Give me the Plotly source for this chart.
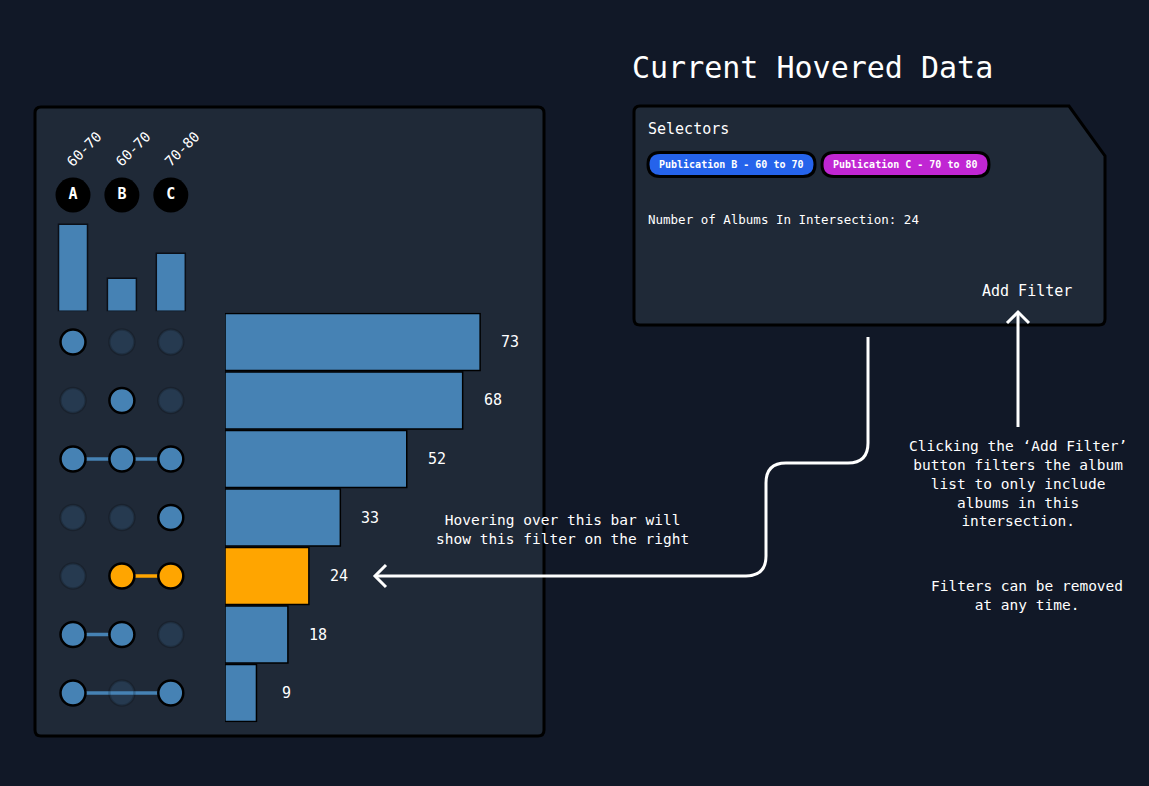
import plotly.graph_objects as go

W, H = 1149, 786
FONT = "DejaVu Sans Mono"

# ---------------- data ----------------
sets = ["A", "B", "C"]
set_ranges = ["60-70", "60-70", "70-80"]
set_sizes = [87, 33, 58]
intersections = [["A"], ["B"], ["A", "B", "C"], ["C"], ["B", "C"], ["A", "B"], ["A", "C"]]
counts = [73, 68, 52, 33, 24, 18, 9]
highlighted = 4
selectors = ["Publication B - 60 to 70", "Publication C - 70 to 80"]
selector_colors = ["#2563eb", "#c026d3"]
hovered_count = counts[highlighted]

# ---------------- colours ----------------
PAGE_BG = "#111827"
PANEL_BG = "#1f2937"
BLUE = "#4682b4"
ORANGE = "#ffa500"
DIM = "rgba(70,130,180,0.2)"


def px(x):
    return x / W


def py(y):
    return 1 - y / H


def path(cmds):
    out = []
    for c in cmds:
        if c[0] == "Z":
            out.append("Z")
        elif c[0] == "Q":
            out.append(f"Q {px(c[1]):.5f},{py(c[2]):.5f} {px(c[3]):.5f},{py(c[4]):.5f}")
        else:
            out.append(f"{c[0]} {px(c[1]):.5f},{py(c[2]):.5f}")
    return " ".join(out)


def rrect(x0, y0, x1, y1, r):
    return path([("M", x0 + r, y0), ("L", x1 - r, y0), ("Q", x1, y0, x1, y0 + r),
                 ("L", x1, y1 - r), ("Q", x1, y1, x1 - r, y1), ("L", x0 + r, y1),
                 ("Q", x0, y1, x0, y1 - r), ("L", x0, y0 + r), ("Q", x0, y0, x0 + r, y0), ("Z",)])


fig = go.Figure()

rows = list(range(len(counts)))
cols = list(range(len(sets)))

# horizontal intersection bars
bar_colors = [ORANGE if i == highlighted else BLUE for i in rows]
fig.add_trace(go.Bar(
    x=counts, y=rows, orientation="h", width=0.975,
    marker=dict(color=bar_colors, line=dict(color="#000000", width=1.5)),
    xaxis="x", yaxis="y", hoverinfo="skip", showlegend=False,
))

# connecting lines in matrix
for i, members in enumerate(intersections):
    idx = sorted(sets.index(m) for m in members)
    if len(idx) > 1:
        fig.add_trace(go.Scatter(
            x=[idx[0], idx[-1]], y=[i, i], mode="lines",
            line=dict(color=ORANGE if i == highlighted else BLUE, width=3.5),
            xaxis="x2", yaxis="y", hoverinfo="skip", showlegend=False,
        ))

# active dots
act_x, act_y, act_c = [], [], []
dim_x, dim_y = [], []
for i, members in enumerate(intersections):
    for j, s in enumerate(sets):
        if s in members:
            act_x.append(j)
            act_y.append(i)
            act_c.append(ORANGE if i == highlighted else BLUE)
        else:
            dim_x.append(j)
            dim_y.append(i)

fig.add_trace(go.Scatter(
    x=dim_x, y=dim_y, mode="markers",
    marker=dict(size=25, color=DIM, line=dict(color="rgba(0,0,0,0.18)", width=2.5)),
    xaxis="x2", yaxis="y", hoverinfo="skip", showlegend=False,
))
fig.add_trace(go.Scatter(
    x=act_x, y=act_y, mode="markers",
    marker=dict(size=25, color=act_c, line=dict(color="#000000", width=2.5)),
    xaxis="x2", yaxis="y", hoverinfo="skip", showlegend=False,
))

# set size bars
fig.add_trace(go.Bar(
    x=cols, y=set_sizes, width=0.593,
    marker=dict(color=BLUE, line=dict(color="#0b0f17", width=1.5)),
    xaxis="x2", yaxis="y2", hoverinfo="skip", showlegend=False,
))

# set letter circles
fig.add_trace(go.Scatter(
    x=cols, y=[0.5] * len(cols), mode="markers+text", text=sets,
    textposition="middle center",
    textfont=dict(family=FONT, size=15, color="#ffffff", weight="bold"),
    marker=dict(size=35, color="#000000"),
    xaxis="x2", yaxis="y3", hoverinfo="skip", showlegend=False,
))

annotations = []
# range labels
for j, lab in enumerate(set_ranges):
    annotations.append(dict(
        x=j, xref="x2", y=py(149), yref="paper", text=lab, showarrow=False,
        textangle=-45, xshift=11, font=dict(family=FONT, size=14, color="#ffffff"),
    ))
# count labels
for i, c in enumerate(counts):
    annotations.append(dict(
        x=c, xref="x", y=i, yref="y", text=str(c), showarrow=False,
        xshift=30, xanchor="center", font=dict(family=FONT, size=15, color="#ffffff"),
    ))

# right panel text
annotations += [
    dict(x=px(812), y=py(67), text="Current Hovered Data", font=dict(family=FONT, size=30, color="#ffffff")),
    dict(x=px(646), y=py(129), xanchor="left", text="Selectors", font=dict(family=FONT, size=15, color="#ffffff")),
    dict(x=px(646), y=py(220), xanchor="left", text=f"Number of Albums In Intersection: {hovered_count}",
         font=dict(family=FONT, size=12.5, color="#ffffff")),
    dict(x=px(1027), y=py(291), text="Add Filter", font=dict(family=FONT, size=15, color="#ffffff")),
    dict(x=px(562), y=py(529), text="Hovering over this bar will<br>show this filter on the right",
         font=dict(family=FONT, size=14.5, color="#ffffff")),
    dict(x=px(1018), y=py(484),
         text="Clicking the \u2018Add Filter\u2019<br>button filters the album<br>list to only include<br>albums in this<br>intersection.",
         font=dict(family=FONT, size=14.5, color="#ffffff")),
    dict(x=px(1027), y=py(595), text="Filters can be removed<br>at any time.",
         font=dict(family=FONT, size=14.5, color="#ffffff")),
]

pill_x = [(648, 815), (822, 989)]
shapes = [
    dict(type="path", xref="paper", yref="paper", layer="below",
         path=rrect(35, 107, 544, 736, 6), fillcolor=PANEL_BG, line=dict(color="#000000", width=3)),
    dict(type="path", xref="paper", yref="paper", layer="below",
         path=path([("M", 640, 106), ("L", 1069, 106), ("L", 1105, 156), ("L", 1105, 319),
                    ("Q", 1105, 325, 1099, 325), ("L", 640, 325), ("Q", 634, 325, 634, 319),
                    ("L", 634, 112), ("Q", 634, 106, 640, 106), ("Z",)]),
         fillcolor=PANEL_BG, line=dict(color="#000000", width=3)),
]
for (x0, x1), lab, colr in zip(pill_x, selectors, selector_colors):
    shapes.append(dict(type="path", xref="paper", yref="paper", layer="below",
                       path=rrect(x0, 152.5, x1, 176.5, 12), fillcolor=colr,
                       line=dict(color="#000000", width=3)))
    annotations.append(dict(x=px((x0 + x1) / 2), y=py(164.5), text=lab,
                            font=dict(family=FONT, size=10, color="#ffffff", weight="bold")))

# arrows
arrow_line = dict(color="#ffffff", width=3)
shapes += [
    dict(type="path", xref="paper", yref="paper",
         path=path([("M", 868, 337), ("L", 868, 443), ("Q", 868, 463, 848, 463), ("L", 786, 463),
                    ("Q", 766, 463, 766, 483), ("L", 766, 556), ("Q", 766, 576, 746, 576),
                    ("L", 375, 576)]), line=arrow_line),
    dict(type="path", xref="paper", yref="paper",
         path=path([("M", 386, 565), ("L", 375, 576), ("L", 386, 587)]), line=arrow_line),
    dict(type="path", xref="paper", yref="paper",
         path=path([("M", 1018, 427), ("L", 1018, 312)]), line=arrow_line),
    dict(type="path", xref="paper", yref="paper",
         path=path([("M", 1007, 323), ("L", 1018, 312), ("L", 1029, 323)]), line=arrow_line),
]

for a in annotations:
    a.setdefault("showarrow", False)
    a.setdefault("xref", "paper")
    a.setdefault("yref", "paper")
    a.setdefault("xanchor", "center")
    a.setdefault("yanchor", "middle")

hidden = dict(visible=False, showgrid=False, zeroline=False, fixedrange=True)
fig.update_layout(
    width=W, height=H, margin=dict(l=0, r=0, t=0, b=0),
    paper_bgcolor=PAGE_BG, plot_bgcolor="rgba(0,0,0,0)",
    xaxis=dict(domain=[px(225), px(544)], range=[0, 319 / 3.495], anchor="y", **hidden),
    yaxis=dict(domain=[py(722.25), py(312.75)], range=[6.5, -0.5], anchor="x", **hidden),
    xaxis2=dict(domain=[px(48.55), px(195.25)], range=[-0.5, 2.5], anchor="y", **hidden),
    yaxis2=dict(domain=[py(311.3), py(220)], range=[0, 91.3], anchor="x2", **hidden),
    yaxis3=dict(domain=[py(215), py(175)], range=[0, 1], anchor="x2", **hidden),
    shapes=shapes, annotations=annotations, showlegend=False,
    font=dict(family=FONT, color="#ffffff"),
)

fig.write_html("out.html", config={"displayModeBar": False})
